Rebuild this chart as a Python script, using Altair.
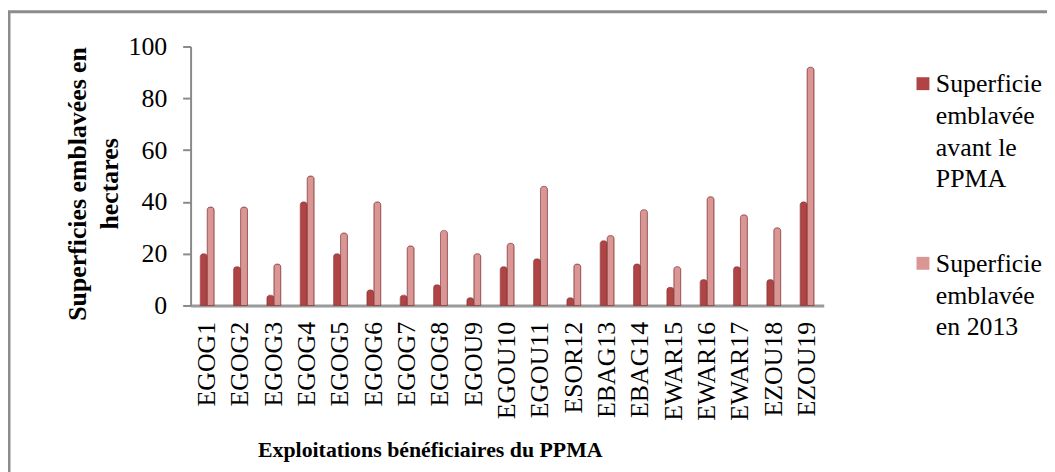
import altair as alt
import pandas as pd

# ---- data ----
exploitations = ["EGOG1", "EGOG2", "EGOG3", "EGOG4", "EGOG5", "EGOG6", "EGOG7",
                 "EGOG8", "EGOU9", "EGOU10", "EGOU11", "ESOR12", "EBAG13", "EBAG14",
                 "EWAR15", "EWAR16", "EWAR17", "EZOU18", "EZOU19"]
avant_ppma = [20, 15, 4, 40, 20, 6, 4, 8, 3, 15, 18, 3, 25, 16, 7, 10, 15, 10, 40]
en_2013 = [38, 38, 16, 50, 28, 40, 23, 29, 20, 24, 46, 16, 27, 37, 15, 42, 35, 30, 92]
series = ["Superficie emblavée avant le PPMA", "Superficie emblavée en 2013"]
series_lines = [["Superficie", "emblavée", "avant le", "PPMA"],
                ["Superficie", "emblavée", "en 2013"]]
colors = ["#B04343", "#D99694"]
y_ticks = [0, 20, 40, 60, 80, 100]
title_text = "du PPMA à Gogounou entre 2009 et 2013"
x_title = "Exploitations bénéficiaires du PPMA"
y_title = ["Superficies emblavées en", "hectares"]

rows = []
for i, e in enumerate(exploitations):
    rows.append({"exploitation": e, "series": series[0], "value": avant_ppma[i]})
    rows.append({"exploitation": e, "series": series[1], "value": en_2013[i]})
df = pd.DataFrame(rows)

FONT = "'Liberation Serif', 'Times New Roman', Times, serif"


def arr(lines):
    return "[" + ",".join("'" + l + "'" for l in lines) + "]"


label_expr = ("datum.label == '" + series[0] + "' ? " + arr(series_lines[0]) +
              " : " + arr(series_lines[1]))

bars = alt.Chart(df).mark_bar(
    cornerRadiusTopLeft=3, cornerRadiusTopRight=3,
    stroke="#8a3c3c", strokeWidth=0.7
).encode(
    x=alt.X("exploitation:N", sort=exploitations,
            scale=alt.Scale(paddingInner=0.583, paddingOuter=0.29),
            axis=alt.Axis(title=x_title, labelAngle=-90, labelAlign="right",
                          labelBaseline="middle", labelFont=FONT, labelFontSize=26,
                          labelColor="black", labelPadding=16, labelOverlap=False,
                          ticks=False, domainColor="#9a9a9a", domainWidth=3,
                          titleFont=FONT, titleFontSize=22, titleFontWeight="bold",
                          titleColor="black", titleX=241, titleY=145,
                          titleAlign="center", titleBaseline="middle")),
    xOffset=alt.XOffset("series:N", sort=series, scale=alt.Scale(paddingInner=0)),
    y=alt.Y("value:Q", scale=alt.Scale(domain=[0, 100]),
            axis=alt.Axis(values=y_ticks, title=y_title, titleFont=FONT,
                          titleFontSize=26, titleFontWeight="bold", titleColor="black",
                          titleLineHeight=32, titleAngle=-90, titleX=-127, titleY=138,
                          titleAlign="center", titleBaseline="top",
                          labelFont=FONT, labelFontSize=26, labelColor="black",
                          labelPadding=16, domainColor="#8a8a8a", domainWidth=2,
                          tickColor="#8a8a8a", tickSize=8, tickWidth=2, grid=False)),
    color=alt.Color("series:N", sort=series,
                    scale=alt.Scale(domain=series, range=colors),
                    legend=alt.Legend(title=None, orient="none", legendX=725, legendY=12,
                                      direction="vertical",
                                      symbolType="M-1,0.92H1V2.92H-1Z",
                                      symbolSize=169, symbolStrokeWidth=0,
                                      labelFont=FONT, labelFontSize=26, labelColor="black",
                                      labelLimit=400, labelOffset=0, rowPadding=46,
                                      labelBaseline="top", labelExpr=label_expr)),
)

frame = alt.Chart(pd.DataFrame({"k": [0]})).mark_rect(
    fill="transparent", stroke="#8c8c8c", strokeWidth=3
).encode(x=alt.value(-183), x2=alt.value(1000), y=alt.value(-35), y2=alt.value(600))

chart = alt.layer(frame, bars).properties(
    width=638, height=261,
    title=alt.TitleParams(title_text, font=FONT, fontSize=26, fontWeight="normal",
                          color="black", frame="group", offset=40, dx=-71, anchor="middle"),
    padding={"left": 184, "top": 37, "right": 225, "bottom": 166},
    autosize=alt.AutoSizeParams(type="none"),
).configure(
    background="white",
    view=alt.ViewConfig(strokeWidth=0, stroke="transparent"),
    style={"guide-label": {"lineHeight": 32, "font": FONT, "fontSize": 26, "fill": "black"}},
)

chart.save("out.html", embed_options={"renderer": "svg", "actions": False})
